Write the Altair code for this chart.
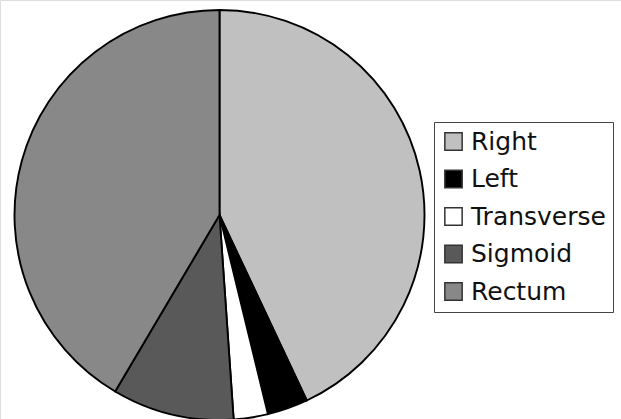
import altair as alt
import pandas as pd

# Colon tumour location shares (percent), clockwise from 12 o'clock
sites = ["Right", "Left", "Transverse", "Sigmoid", "Rectum"]
shares = [43.0, 3.2, 2.7, 9.6, 41.5]
fills = ["#c0c0c0", "#000000", "#ffffff", "#595959", "#888888"]

df = pd.DataFrame({"site": sites, "share": shares, "rank": list(range(len(sites)))})

pie = (
    alt.Chart(df)
    .mark_arc(radius=205, stroke="#000000", strokeWidth=1.9)
    .encode(
        theta=alt.Theta("share:Q", stack=True),
        order=alt.Order("rank:Q"),
        color=alt.Color(
            "site:N",
            scale=alt.Scale(domain=sites, range=fills),
            sort=sites,
            legend=alt.Legend(
                title=None,
                orient="none",
                legendX=434,
                legendY=122,
                padding=7,
                strokeColor="#444444",
                fillColor="#ffffff",
                symbolType="square",
                symbolSize=300,
                symbolStrokeColor="#333333",
                symbolStrokeWidth=1.5,
                labelFont="DejaVu Sans",
                labelFontSize=25,
                labelColor="#111111",
                labelOffset=5,
                rowPadding=11.5,
                labelLimit=300,
            ),
        ),
        x=alt.value(219.5),
        y=alt.value(215),
    )
)

chart = (
    pie.properties(width=621, height=419, autosize=alt.AutoSizeParams(type="none"), padding=0)
    .configure_view(stroke=None)
    .configure_legend(strokeWidth=1.5)
    .configure(background="#ffffff")
)

chart.save("out.html", embed_options={"renderer": "svg", "actions": False})
